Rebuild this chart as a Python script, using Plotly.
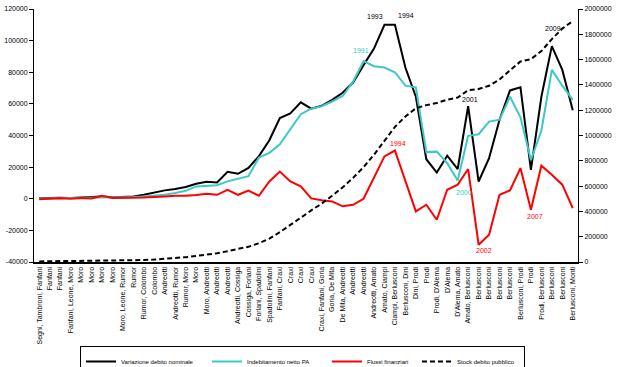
import plotly.graph_objects as go

years = list(range(1960, 2012))

governi = [
    "Segni, Tambroni, Fanfani", "Fanfani", "Fanfani", "Fanfani, Leone, Moro", "Moro", "Moro",
    "Moro", "Moro", "Moro, Leone, Rumor", "Rumor", "Rumor, Colombo", "Colombo",
    "Andreotti", "Andreotti, Rumor", "Rumor, Moro", "Moro", "Moro, Andreotti", "Andreotti",
    "Andreotti", "Andreotti, Cossiga", "Cossiga, Forlani", "Forlani, Spadolini", "Spadolini, Fanfani",
    "Fanfani, Craxi", "Craxi", "Craxi", "Craxi", "Craxi, Fanfani, Goria", "Goria, De Mita",
    "De Mita, Andreotti", "Andreotti", "Andreotti", "Andreotti, Amato", "Amato, Ciampi",
    "Ciampi, Berlusconi", "Berlusconi, Dini", "Dini, Prodi", "Prodi", "Prodi, D'Alema", "D'Alema",
    "D'Alema, Amato", "Amato, Berlusconi", "Berlusconi", "Berlusconi", "Berlusconi", "Berlusconi",
    "Berlusconi, Prodi", "Prodi", "Prodi, Berlusconi", "Berlusconi", "Berlusconi", "Berlusconi, Monti",
]

variazione_debito = [
    300, 500, 600, 400, 700, 900, 1500, 900, 1100, 1500,
    2500, 4000, 5300, 6100, 7400, 9500, 10700, 10300, 17000, 15800,
    19500, 27000, 37000, 51000, 54000, 61000, 57000, 58800, 62500, 67000,
    73500, 84500, 95000, 110000, 110000, 83000, 64500, 25000, 16600, 27200,
    18800, 58500, 10900, 25700, 50000, 68500, 70500, 18300, 64500, 96500,
    81500, 56000,
]

indebitamento_pa = [
    200, 300, 400, 300, 500, 600, 800, 700, 900, 1100,
    1500, 2000, 2500, 3600, 5000, 7800, 8000, 8500, 11000, 12800,
    14300, 26000, 29000, 34500, 44000, 53500, 57000, 58500, 61500, 65000,
    74000, 87000, 83800, 83000, 80000, 71500, 70500, 29500, 29800, 22500,
    11500, 39800, 40800, 48800, 50000, 64500, 51500, 24500, 43000, 81500,
    71500, 62500,
]

flussi_finanziari = [
    -300, 200, 300, 0, 400, 200, 1900, 500, 800, 700,
    800, 1000, 1500, 1900, 1900, 2400, 3200, 2500, 5600, 2500,
    5200, 1900, 10900, 17200, 10900, 7800, 200, -1000, -1700, -4800,
    -3800, 0, 13100, 26800, 30500, 11500, -8000, -3800, -13300, 5700,
    8900, 18800, -29100, -22800, 2500, 5300, 19400, -7000, 20900, 15200,
    8900, -5900,
]

stock_debito = [
    4800, 5300, 5900, 6300, 7000, 7900, 9400, 10300, 11400, 12900,
    15400, 19400, 24700, 30800, 38200, 47700, 58400, 68700, 85700, 101500,
    121000, 148000, 185000, 236000, 290000, 350000, 408000, 462000, 524000, 590000,
    665000, 750000, 848000, 958000, 1068000, 1150000, 1215000, 1240000, 1257000, 1283000,
    1300000, 1358000, 1368000, 1393000, 1443000, 1515000, 1585000, 1604000, 1667000, 1762000,
    1845000, 1905000,
]

left_ticks = list(range(-40000, 120001, 20000))
right_ticks = list(range(0, 2000001, 200000))

# point labels (text, year position, value position, series colour)
lbl_text = ["1991", "1993", "1994", "1994", "2000", "2001", "2002", "2007", "2009"]
lbl_x = [1990.8, 1992.1, 1995.1, 1994.3, 2000.6, 2001.2, 2002.5, 2007.4, 2009.1]
lbl_y = [94000, 115100, 115700, 34800, 3800, 62600, -32900, -11400, 107500]

BLACK = "#000000"
CYAN = "#3CC8C8"
RED = "#FF0000"
lbl_col = [CYAN, BLACK, BLACK, RED, CYAN, BLACK, RED, RED, BLACK]

FONT = "Arial, Liberation Sans, sans-serif"

fig = go.Figure()
fig.add_trace(go.Scatter(x=years, y=variazione_debito, mode="lines", name="Variazione debito nominale",
                         line=dict(color=BLACK, width=2), legendwidth=81))
fig.add_trace(go.Scatter(x=years, y=indebitamento_pa, mode="lines", name="Indebitamento netto PA",
                         line=dict(color=CYAN, width=2), legendwidth=75))
fig.add_trace(go.Scatter(x=years, y=flussi_finanziari, mode="lines", name="Flussi finanziari",
                         line=dict(color=RED, width=2), legendwidth=45))
fig.add_trace(go.Scatter(x=years, y=stock_debito, mode="lines", name="Stock debito pubblico",
                         line=dict(color=BLACK, width=2, dash="5px,3px"), yaxis="y2", legendwidth=62))

for t, x, y, c in zip(lbl_text, lbl_x, lbl_y, lbl_col):
    fig.add_annotation(x=x, y=y, xref="x", yref="y", text=t, showarrow=False,
                       font=dict(family=FONT, size=7, color=c))

fig.update_layout(
    width=617, height=367,
    margin=dict(l=34, r=39, t=9, b=105, autoexpand=False),
    paper_bgcolor="white", plot_bgcolor="white",
    font=dict(family=FONT, size=7, color="#000"),
    showlegend=True,
    legend=dict(orientation="h", xref="container", yref="container",
                x=80 / 617, xanchor="left", y=1 - 346 / 367, yanchor="top",
                bordercolor="#000", borderwidth=1, font=dict(family=FONT, size=6, color="#000"),
                bgcolor="white", tracegroupgap=0, itemwidth=30),
    xaxis=dict(
        range=[1959.5, 2011.5], tickmode="array", tickvals=years, ticktext=governi,
        tickangle=-90, showgrid=False, zeroline=False, showline=True, linecolor="#000",
        linewidth=2, ticks="", tickfont=dict(family=FONT, size=7, color="#000"), automargin=False,
    ),
    yaxis=dict(
        range=[-40000, 120000], tickmode="array", tickvals=left_ticks,
        ticktext=[str(v) for v in left_ticks], showgrid=False, zeroline=False,
        showline=True, linecolor="#000", linewidth=1, ticks="outside", ticklen=4,
        tickcolor="#000", tickfont=dict(family=FONT, size=7, color="#000"), automargin=False,
    ),
    yaxis2=dict(
        range=[0, 2000000], overlaying="y", side="right", tickmode="array", tickvals=right_ticks,
        ticktext=[str(v) for v in right_ticks], showgrid=False, zeroline=False,
        showline=True, linecolor="#000", linewidth=1, ticks="outside", ticklen=4,
        tickcolor="#000", tickfont=dict(family=FONT, size=7, color="#000"), automargin=False,
    ),
)

fig.write_html(
    "out.html",
    config={"displayModeBar": False},
    post_script="document.body.style.margin='0';document.body.style.padding='0';"
                "document.body.style.overflow='hidden';",
)
